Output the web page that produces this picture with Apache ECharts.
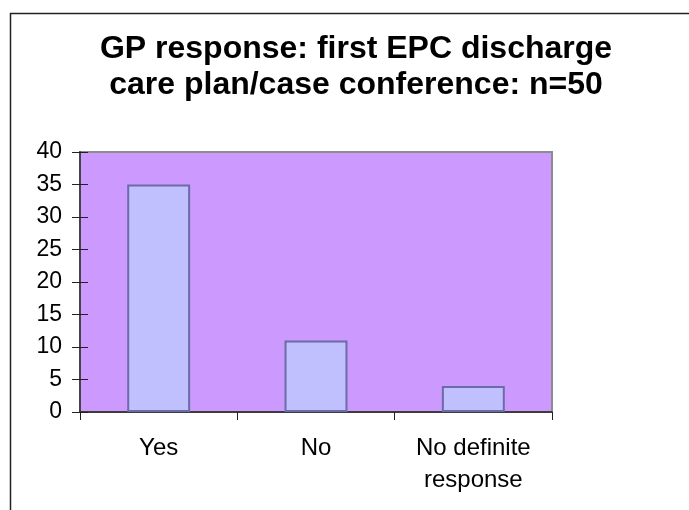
<!DOCTYPE html>
<html>
<head>
<meta charset="utf-8">
<script src="https://cdn.jsdelivr.net/npm/echarts@6/dist/echarts.min.js"></script>
<style>
  html, body { margin: 0; padding: 0; background: #fff; }
  #chart { width: 689px; height: 510px; }
</style>
</head>
<body>
<div id="chart"></div>
<script>
// Responses from GPs to the first EPC discharge care plan / case conference
const categories = ['Yes', 'No', 'No definite\nresponse'];
const responses = [35, 11, 4];
const yTicks = { min: 0, max: 40, interval: 5 };
const titleLines = ['GP response: first EPC discharge', 'care plan/case conference: n=50'];

const FONT = '"Liberation Sans", Arial, sans-serif';
const chart = echarts.init(document.getElementById('chart'), null, { renderer: 'canvas' });

chart.setOption({
  animation: false,
  backgroundColor: '#ffffff',
  grid: {
    left: 80, top: 152, width: 472, height: 260,
    show: true, backgroundColor: '#cc99ff',
    borderColor: '#8c8c8c', borderWidth: 2
  },
  graphic: [
    {
      type: 'rect', z: 0,
      shape: { x: 10.5, y: 13.5, width: 720, height: 600 },
      style: { fill: 'none', stroke: '#222', lineWidth: 1.5 }
    },
    {
      type: 'text', z: 10,
      x: 356, y: 31,
      style: {
        text: titleLines.join('\n'),
        font: 'bold 32px ' + FONT,
        lineHeight: 36,
        fill: '#000',
        align: 'center',
        verticalAlign: 'top'
      }
    }
  ],
  xAxis: {
    type: 'category',
    data: categories,
    boundaryGap: true,
    axisLine: { show: true, lineStyle: { color: '#222', width: 1.5 } },
    axisTick: { show: true, length: 8, lineStyle: { color: '#222', width: 1 } },
    axisLabel: {
      color: '#000', fontSize: 24, fontFamily: FONT,
      margin: 20, lineHeight: 32, interval: 0
    },
    splitLine: { show: false }
  },
  yAxis: [
    {
      type: 'value',
      min: yTicks.min, max: yTicks.max, interval: yTicks.interval,
      axisLine: { show: true, lineStyle: { color: '#444', width: 2 } },
      axisTick: { show: true, length: 8, lineStyle: { color: '#222', width: 1 } },
      axisLabel: { color: '#000', fontSize: 23, fontFamily: FONT, margin: 18 },
      splitLine: { show: false }
    },
    {
      // inner half of the crossing ticks
      type: 'value', position: 'left',
      min: yTicks.min, max: yTicks.max, interval: yTicks.interval,
      axisLine: { show: false },
      axisTick: { show: true, inside: true, length: 8, lineStyle: { color: '#222', width: 1 } },
      axisLabel: { show: false },
      splitLine: { show: false }
    }
  ],
  series: [
    {
      type: 'bar',
      data: responses,
      barWidth: '40%',
      itemStyle: { color: '#c0c0ff', borderColor: '#6b6ba6', borderWidth: 2 }
    }
  ]
});
</script>
</body>
</html>
